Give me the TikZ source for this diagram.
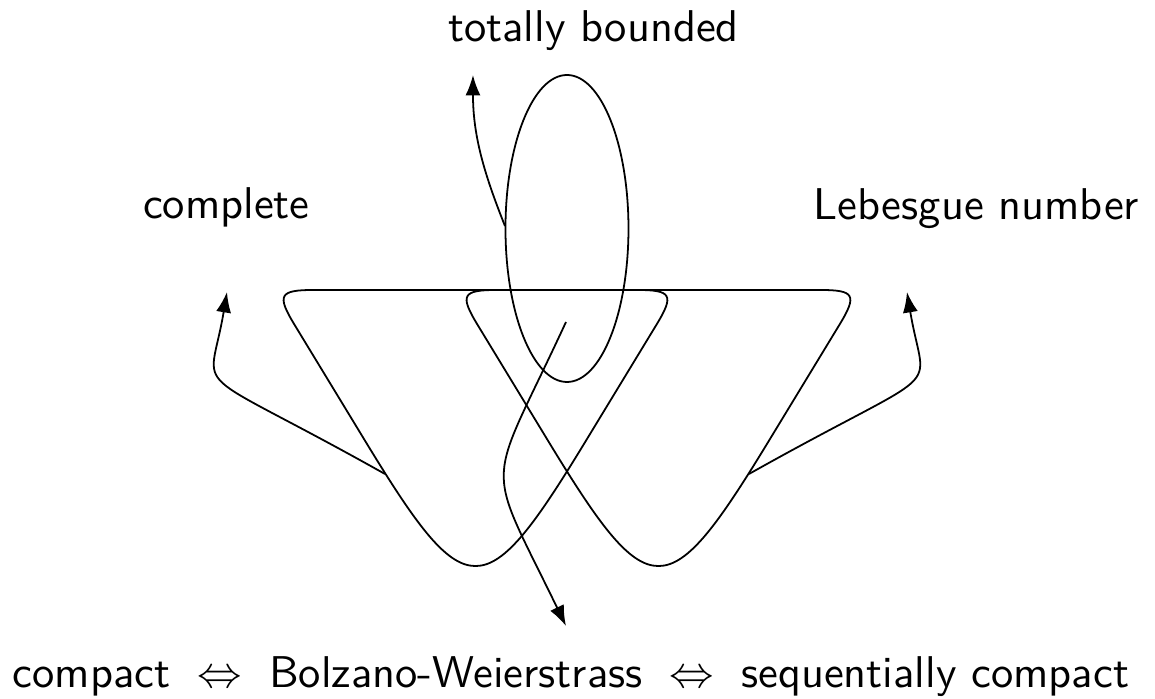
\documentclass[tikz,border=0pt]{standalone}
\usepackage{amsmath}
\usepackage{tikz}
\usetikzlibrary{arrows.meta}
\renewcommand{\familydefault}{\sfdefault}
\tikzstyle{prop} = [anchor=base, inner sep=0pt]
\tikzstyle{link} = [-{Latex[length=4.6pt,width=3.4pt]}]
\newcommand{\roundtri}[1]{%
  \draw[shift={(#1,0)}] (-1.62,0) -- (1.62,0)
    .. controls (1.96,0) and (1.989,-0.051) .. (1.813,-0.342) -- (1.140,-1.449)
    .. controls (0.080,-3.198) and (-0.080,-3.198) .. (-1.140,-1.449) -- (-1.813,-0.342)
    .. controls (-1.989,-0.051) and (-1.96,0) .. cycle;}

\begin{document}
\begin{tikzpicture}[x=0.79cm, y=0.79cm]
\useasboundingbox (-5.67,-4.09) rectangle (5.88,2.90);
% properties
\node [prop] (bounded) at (0.265,2.48) {totally bounded};
\node [prop] (complete) at (-3.405,0.715) {complete};
\node [prop] (lebesgue) at (4.095,0.705) {Lebesgue number};
\node [prop] (compact) at (0.04,-3.98) {compact $\;\Leftrightarrow\;$ Bolzano-Weierstrass $\;\Leftrightarrow\;$ sequentially compact};
% the two loops and the ellipse
\roundtri{-0.915}
\roundtri{0.915}
\draw (0,0.615) ellipse (0.615 and 1.535);
% ends of the arrows
\coordinate (ellfrom) at (-0.62,0.64);
\coordinate (ellto) at (-0.94,2.15);
\coordinate (leftfrom) at (-1.82,-1.84);
\coordinate (leftto) at (-3.40,-0.02);
\coordinate (rightfrom) at (1.82,-1.84);
\coordinate (rightto) at (3.40,-0.02);
\coordinate (midfrom) at (-0.01,-0.32);
\coordinate (midto) at (-0.01,-3.36);
\draw [link] (ellfrom) .. controls (-0.84,1.19) and (-0.94,1.56) .. (ellto);
\draw [link] (leftfrom) .. controls (-3.85,-0.70) and (-3.58,-1.10) .. (leftto);
\draw [link] (rightfrom) .. controls (3.85,-0.70) and (3.58,-1.10) .. (rightto);
\draw [link] (midfrom) .. controls (-0.81,-2.05) and (-0.84,-1.65) .. (midto);
\end{tikzpicture}
\end{document}
